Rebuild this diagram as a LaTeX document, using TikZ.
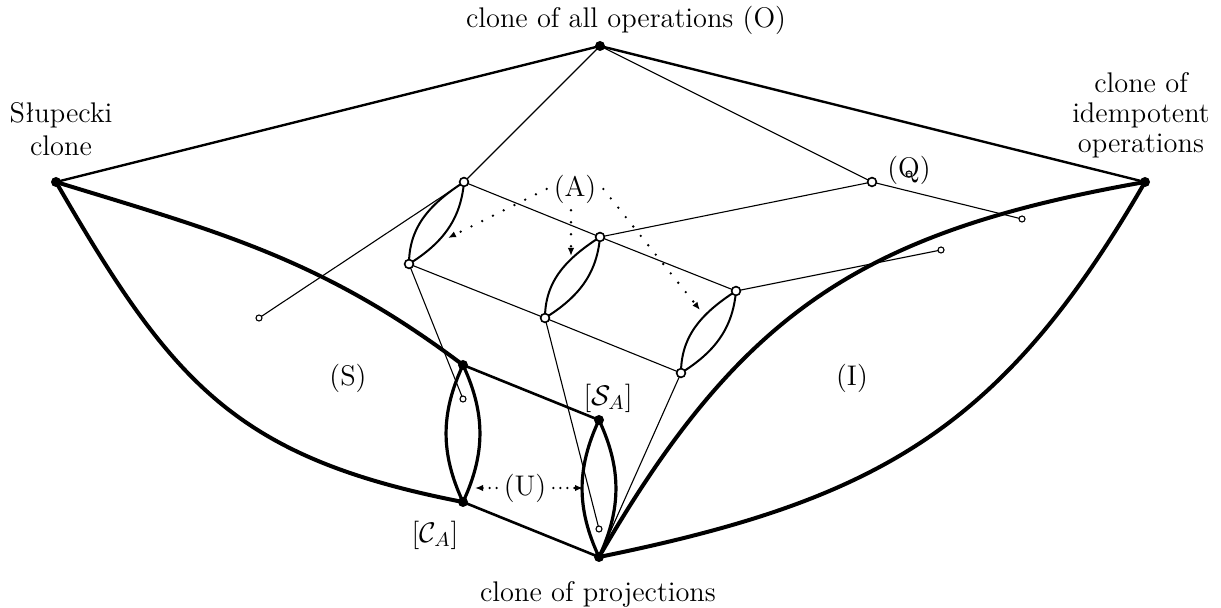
\documentclass[tikz,border=0pt]{standalone}
\usepackage{fix-cm}
\usepackage{fontspec}
\usetikzlibrary{arrows.meta,backgrounds}
\begin{document}
\begin{tikzpicture}[x=0.5pt,y=0.5pt,
  every node/.style={font=\fontsize{14.2}{16}\selectfont},
  bigdot/.style={circle,fill=black,inner sep=0pt,minimum size=5pt},
  opendot/.style={circle,draw=black,fill=white,line width=0.8pt,inner sep=0pt,minimum size=4.4pt},
  smalldot/.style={circle,draw=black,fill=white,line width=0.55pt,inner sep=0pt,minimum size=3pt},
  tline/.style={line width=0.55pt},
  lensline/.style={line width=1.0pt},
  mline/.style={line width=1.2pt},
  medline/.style={line width=1.3pt},
  blens/.style={line width=1.6pt},
  heavy/.style={line width=2pt},
  dotarrow/.style={line width=1.3pt,line cap=round,dash pattern=on 0pt off 6pt,
     -{Latex[length=4pt,width=3.2pt]}},
  udotarrow/.style={line width=1.3pt,line cap=round,dash pattern=on 0pt off 3.5pt,
     -{Latex[length=4pt,width=3.2pt]}}
]
\useasboundingbox (0,0) rectangle (1221,-608);

% main vertices
\node[bigdot] (O)  at (600,-46) {};
\node[bigdot] (Sl) at (56,-182) {};
\node[bigdot] (Id) at (1145,-182) {};
\node[bigdot] (Pr) at (599,-557) {};
\node[bigdot] (CA) at (463,-502) {};
\node[bigdot] (SA) at (599,-420) {};
\node[bigdot] (LT) at (463,-365) {};
% open vertices
\node[opendot] (T1) at (464,-182) {};
\node[opendot] (B1) at (409,-264) {};
\node[opendot] (T2) at (600,-237) {};
\node[opendot] (B2) at (545,-318) {};
\node[opendot] (T3) at (736,-291) {};
\node[opendot] (B3) at (681,-373) {};
\node[opendot] (Q)  at (872,-182) {};
% small leaves
\node[smalldot] (s1) at (259,-318) {};
\node[smalldot] (s2) at (1022,-219) {};
\node[smalldot] (s3) at (941,-250) {};
\node[smalldot] (s4) at (463,-399) {};
\node[smalldot] (s5) at (599,-529) {};
\node[smalldot] (s6) at (909,-174) {};

% labels
\node[anchor=base] (lO) at (626,-28) {clone of all operations (O)};
\node[align=center,anchor=north,inner sep=0pt,font=\fontsize{14.2}{16.6}\selectfont] (lSl) at (61,-102) {Słupecki\\clone};
\node[align=center,anchor=north,inner sep=0pt,font=\fontsize{14.2}{15}\selectfont] (lId) at (1141,-72) {clone of\\idempotent\\operations};
\node (lQ) at (909,-170) {(Q)};
\node (lA) at (575,-189) {(A)};
\node (lS) at (348,-378) {(S)};
\node (lI) at (852,-378) {(I)};
\node (lSA) at (608,-398) {$[\mathcal{S}_A]$};
\node (lCA) at (435,-535) {$[\mathcal{C}_A]$};
\node (lU) at (525,-488) {(U)};
\node[anchor=base] (lPr) at (598,-602) {clone of projections};

% arrow targets
\coordinate (a1) at (448,-238);
\coordinate (a2) at (571,-256);
\coordinate (a3) at (700,-310);
\coordinate (u1) at (475,-488);
\coordinate (u2) at (583,-488);

\begin{scope}[on background layer]
  \draw[mline] (O.center) -- (Sl.center);
  \draw[mline] (O.center) -- (Id.center);
  \draw[tline] (O.center) -- (T1.center);
  \draw[tline] (O.center) -- (Q.center);
  \draw[tline] (T1.center) -- (s1.center);
  \draw[tline] (T1.center) -- (T2.center) -- (T3.center);
  \draw[tline] (B1.center) -- (B2.center) -- (B3.center);
  \draw[tline] (T2.center) -- (Q.center);
  \draw[tline] (Q.center) -- (s2.center);
  \draw[tline] (T3.center) -- (s3.center);
  \draw[tline] (B1.center) -- (s4.center);
  \draw[tline] (B2.center) -- (s5.center);
  \draw[tline] (B3.center) -- (Pr.center);
  \foreach \t/\b in {T1/B1,T2/B2,T3/B3}{
    \draw[lensline] (\t.center) to[out=213,in=90] (\b.center);
    \draw[lensline] (\t.center) to[out=265,in=32] (\b.center);
  }
  \draw[heavy] (Sl.center) to[out=-60,in=169,looseness=1.15] (CA.center);
  \draw[heavy] (Sl.center) to[out=-17,in=143] (LT.center);
  \draw[heavy] (Id.center) to[out=240,in=11.5,looseness=1.1] (Pr.center);
  \draw[heavy] (Id.center) to[out=190,in=60,looseness=1.1] (Pr.center);
  \draw[medline] (LT.center) -- (SA.center);
  \draw[medline] (CA.center) -- (Pr.center);
  \draw[blens] (LT.center) to[bend left=25] (CA.center);
  \draw[blens] (LT.center) to[bend right=25] (CA.center);
  \draw[blens] (SA.center) to[bend left=25] (Pr.center);
  \draw[blens] (SA.center) to[bend right=25] (Pr.center);
\end{scope}

\draw[dotarrow] (lA.west) -- (a1);
\draw[dotarrow] (lA.south -| a2) -- (a2);
\draw[dotarrow] (lA.east) -- (a3);
\draw[udotarrow] (lU.west) -- (u1);
\draw[udotarrow] (lU.east) -- (u2);
\end{tikzpicture}
\end{document}
